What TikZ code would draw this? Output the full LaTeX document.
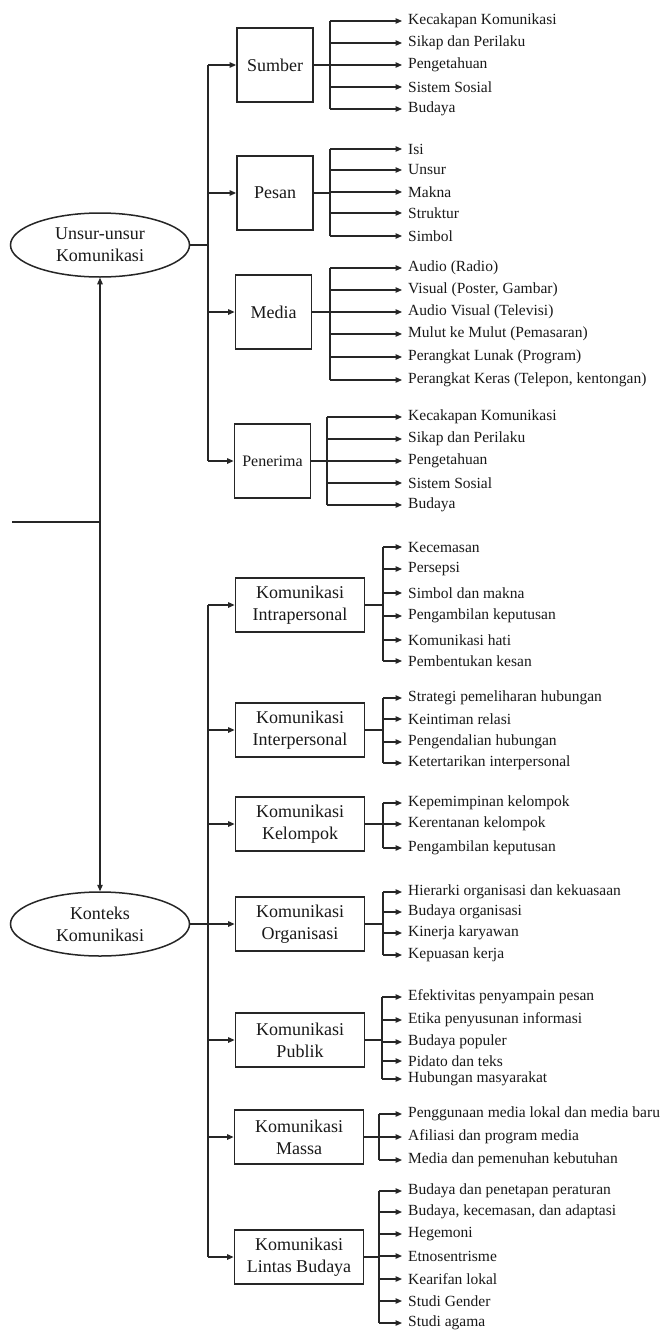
\documentclass[tikz,border=0pt]{standalone}
\usepackage{fontspec}
\setmainfont{Liberation Serif}
\usetikzlibrary{arrows.meta,shapes.geometric}

% one box with its list of items: #1 box name, #2 x of the branch line,
% #3 number of items, #4 list of y/label pairs
\newcommand\twigs[4]{%
  \coordinate (#1-j) at (#2,0);
  \foreach \yy/\lab [count=\k] in {#4} {
    \node[item] (#1-\k) at (402,\yy) {\lab};
    \draw[link,tip] (#1-j |- #1-\k.west) -- (#1-\k.west);
  }
  \draw[link] (#1.east) -- (#1-j |- #1.east);
  \draw[link] (#1-j |- #1-1.west) -- (#1-j |- #1-#3.west);
}

\begin{document}
\begin{tikzpicture}[x=1pt,y=-1pt,
  ink/.style={draw=black!85},
  link/.style={ink,line width=1.2pt},
  tip/.style={-{Triangle[length=6.5pt,width=5.5pt]}},
  tips/.style={{Triangle[length=6.5pt,width=5.5pt]}-{Triangle[length=6.5pt,width=5.5pt]}},
  item/.style={anchor=west,inner xsep=6pt,inner ysep=0pt,font=\fontsize{15.5}{18}\selectfont,text=black!90},
  ubox/.style={ink,line width=1.8pt,minimum width=76pt,minimum height=74pt,inner sep=0pt,font=\fontsize{18}{22}\selectfont,text=black!90},
  kbox/.style={ink,line width=1.8pt,minimum width=129pt,minimum height=54pt,inner sep=0pt,align=center,font=\fontsize{18}{22}\selectfont,text=black!90},
  ell/.style={ink,ellipse,line width=1.5pt,minimum width=179pt,minimum height=64pt,inner sep=0pt,align=center,font=\fontsize{18}{22}\selectfont,text=black!90}]
\useasboundingbox (0,0) rectangle (662,1330);
\fill[white] (0,0) rectangle (662,1330);

% ---- elements of communication ----
\node[ell] (unsur) at (100,245) {Unsur-unsur\\Komunikasi};
\node[ubox] (sumber) at (275,65) {Sumber};
\node[ubox] (pesan) at (275,193) {Pesan};
\node[ubox] (media) at (273.5,312) {Media};
\node[ubox,font=\fontsize{16}{20}\selectfont] (penerima) at (272.5,461) {Penerima};

\coordinate (trunkU) at (208,0);
\draw[link] (unsur.east) -- (unsur.east -| trunkU);
\draw[link] (trunkU |- sumber) -- (trunkU |- penerima);
\foreach \b in {sumber,pesan,media,penerima}
  \draw[link,tip] (trunkU |- \b) -- (\b.west);

\twigs{sumber}{330}{5}{21/Kecakapan Komunikasi, 43/Sikap dan Perilaku, 65/Pengetahuan, 87/Sistem Sosial, 109/Budaya}
\twigs{pesan}{330}{5}{149/Isi, 170/Unsur, 192/Makna, 213/Struktur, 236/Simbol}
\twigs{media}{330}{6}{268/Audio (Radio), 290/{Visual (Poster, Gambar)}, 312/Audio Visual (Televisi), 334/Mulut ke Mulut (Pemasaran), 357/Perangkat Lunak (Program), 380/{Perangkat Keras (Telepon, kentongan)}}
\twigs{penerima}{327}{5}{417/Kecakapan Komunikasi, 439/Sikap dan Perilaku, 461/Pengetahuan, 483/Sistem Sosial, 505/Budaya}

% ---- contexts of communication ----
\node[ell] (konteks) at (100,924) {Konteks\\Komunikasi};
\node[kbox] (intra) at (300,605) {Komunikasi\\Intrapersonal};
\node[kbox] (inter) at (300,730) {Komunikasi\\Interpersonal};
\node[kbox] (kelompok) at (300,824) {Komunikasi\\Kelompok};
\node[kbox] (organisasi) at (300,924) {Komunikasi\\Organisasi};
\node[kbox] (publik) at (300,1040) {Komunikasi\\Publik};
\node[kbox] (massa) at (299,1137) {Komunikasi\\Massa};
\node[kbox] (lintas) at (299,1257) {Komunikasi\\Lintas Budaya};

\coordinate (trunkK) at (208,0);
\draw[link] (konteks.east) -- (konteks.east -| trunkK);
\draw[link] (trunkK |- intra) -- (trunkK |- lintas);
\foreach \b in {intra,inter,kelompok,organisasi,publik,massa,lintas}
  \draw[link,tip] (trunkK |- \b) -- (\b.west);

\twigs{intra}{383}{6}{547/Kecemasan, 569/Persepsi, 593/Simbol dan makna, 616/Pengambilan keputusan, 640/Komunikasi hati, 661/Pembentukan kesan}
\twigs{inter}{383}{4}{698/Strategi pemeliharan hubungan, 719/Keintiman relasi, 742/Pengendalian hubungan, 763/Ketertarikan interpersonal}
\twigs{kelompok}{383}{3}{803/Kepemimpinan kelompok, 824/Kerentanan kelompok, 848/Pengambilan keputusan}
\twigs{organisasi}{383}{4}{892/Hierarki organisasi dan kekuasaan, 912/Budaya organisasi, 933/Kinerja karyawan, 955/Kepuasan kerja}
\twigs{publik}{382}{5}{997/Efektivitas penyampain pesan, 1020/Etika penyusunan informasi, 1042/Budaya populer, 1061/Pidato dan teks, 1079/Hubungan masyarakat}
\twigs{massa}{379}{3}{1114/Penggunaan media lokal dan media baru, 1137/Afiliasi dan program media, 1160/Media dan pemenuhan kebutuhan}
\twigs{lintas}{379}{7}{1191/Budaya dan penetapan peraturan, 1212/{Budaya, kecemasan, dan adaptasi}, 1234/Hegemoni, 1256/Etnosentrisme, 1279/Kearifan lokal, 1301/Studi Gender, 1323/Studi agama}

% ---- link between the two halves ----
\draw[link,tips] (unsur.south) -- (konteks.north);
\coordinate (stub) at (12,522);
\draw[link] (stub) -- (stub -| unsur.south);
\end{tikzpicture}
\end{document}
